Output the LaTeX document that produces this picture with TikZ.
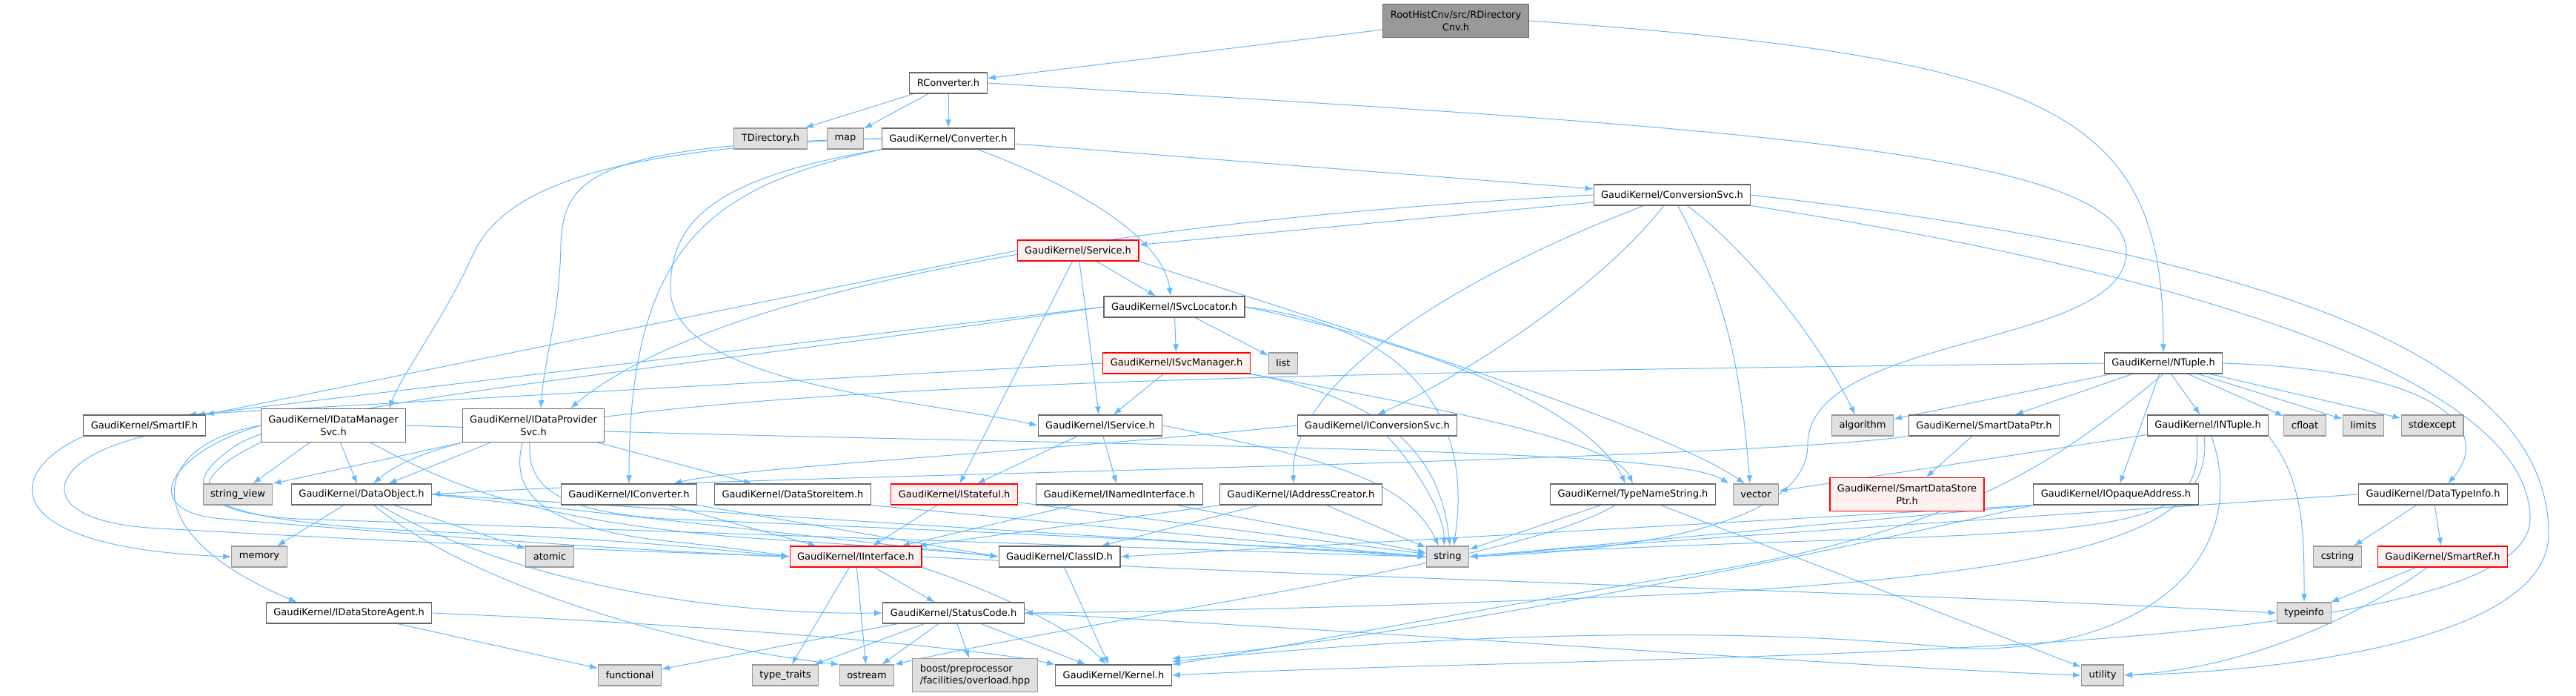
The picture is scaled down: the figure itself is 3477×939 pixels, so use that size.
\documentclass[tikz,border=0pt]{standalone}
\usepackage{fontspec}
\setmainfont{DejaVu Sans}
\usepackage{xcolor}
\usepackage{tikz}
\usetikzlibrary{arrows.meta,backgrounds}
\definecolor{edgeblue}{HTML}{63B8FF}
\definecolor{boxline}{HTML}{666666}
\definecolor{sysline}{HTML}{999999}
\definecolor{sysfill}{HTML}{E0E0E0}
\definecolor{redline}{HTML}{FF0000}
\definecolor{redfill}{HTML}{FFF0F0}
\definecolor{rootfill}{HTML}{999999}
\tikzset{
  hdr/.style={draw=boxline, fill=white, line width=1.2pt, minimum height=28pt, inner xsep=10pt, inner ysep=2pt, font=\fontsize{13}{16.5}\selectfont, align=center},
  syshdr/.style={hdr, draw=sysline, fill=sysfill},
  redhdr/.style={hdr, draw=redline, fill=redfill},
  roothdr/.style={hdr, fill=rootfill},
  twoline/.style={minimum height=45pt},
  dep/.style={draw=edgeblue, line width=1pt, -{Latex[length=11pt,width=8pt]}},
}
\begin{document}
\begin{tikzpicture}[x=1pt, y=-1pt]
\useasboundingbox (0,0) rectangle (3477,939);
\node[roothdr, twoline] (root) at (1965,28) {RootHistCnv/src/RDirectory\\Cnv.h};
\node[hdr] (rconv) at (1280,112) {RConverter.h};
\node[syshdr] (tdir) at (1040,187) {TDirectory.h};
\node[syshdr] (map) at (1141,187) {map};
\node[hdr] (conv) at (1280,187) {GaudiKernel/Converter.h};
\node[hdr] (convsvc) at (2257,263) {GaudiKernel/ConversionSvc.h};
\node[redhdr] (service) at (1455,338) {GaudiKernel/Service.h};
\node[hdr] (svcloc) at (1585,414) {GaudiKernel/ISvcLocator.h};
\node[redhdr] (svcmgr) at (1588,490) {GaudiKernel/ISvcManager.h};
\node[syshdr] (list) at (1732,490) {list};
\node[hdr] (ntuple) at (2920,490) {GaudiKernel/NTuple.h};
\node[hdr] (smartif) at (195,574) {GaudiKernel/SmartIF.h};
\node[hdr, twoline] (datamgr) at (450,574) {GaudiKernel/IDataManager\\Svc.h};
\node[hdr, twoline] (dataprov) at (720,574) {GaudiKernel/IDataProvider\\Svc.h};
\node[hdr] (iservice) at (1485,574) {GaudiKernel/IService.h};
\node[hdr] (iconvsvc) at (1859,574) {GaudiKernel/IConversionSvc.h};
\node[syshdr] (algorithm) at (2514,574) {algorithm};
\node[hdr] (smartdp) at (2678,574) {GaudiKernel/SmartDataPtr.h};
\node[hdr] (intuple) at (2980,574) {GaudiKernel/INTuple.h};
\node[syshdr] (cfloat) at (3111,574) {cfloat};
\node[syshdr] (limits) at (3190,574) {limits};
\node[syshdr] (stdexcept) at (3283,574) {stdexcept};
\node[syshdr] (strview) at (321,667) {string\_view};
\node[hdr] (dataobj) at (488,667) {GaudiKernel/DataObject.h};
\node[hdr] (iconv) at (849,667) {GaudiKernel/IConverter.h};
\node[hdr] (dsitem) at (1070,667) {GaudiKernel/DataStoreItem.h};
\node[redhdr] (istateful) at (1288,667) {GaudiKernel/IStateful.h};
\node[hdr] (inamed) at (1511,667) {GaudiKernel/INamedInterface.h};
\node[hdr] (iaddr) at (1756,667) {GaudiKernel/IAddressCreator.h};
\node[hdr] (typename) at (2204,667) {GaudiKernel/TypeNameString.h};
\node[syshdr] (vector) at (2370,667) {vector};
\node[redhdr, twoline] (sdsptr) at (2574,667) {GaudiKernel/SmartDataStore\\Ptr.h};
\node[hdr] (iopaque) at (2856,667) {GaudiKernel/IOpaqueAddress.h};
\node[hdr] (dtinfo) at (3284,667) {GaudiKernel/DataTypeInfo.h};
\node[syshdr] (memory) at (350,751) {memory};
\node[syshdr] (atomic) at (742,751) {atomic};
\node[redhdr] (iiface) at (1155,751) {GaudiKernel/IInterface.h};
\node[hdr] (classid) at (1430,751) {GaudiKernel/ClassID.h};
\node[syshdr] (string) at (1954,751) {string};
\node[syshdr] (cstring) at (3155,751) {cstring};
\node[redhdr] (smartref) at (3297,751) {GaudiKernel/SmartRef.h};
\node[hdr] (dsagent) at (471,827) {GaudiKernel/IDataStoreAgent.h};
\node[hdr] (statuscode) at (1287,827) {GaudiKernel/StatusCode.h};
\node[syshdr] (typeinfo) at (3110,827) {typeinfo};
\node[syshdr] (functional) at (850,911) {functional};
\node[syshdr] (typetraits) at (1060,911) {type\_traits};
\node[syshdr] (ostream) at (1170,911) {ostream};
\node[syshdr, twoline, align=left] (boost) at (1316,911) {boost/preprocessor\\/facilities/overload.hpp};
\node[hdr] (kernel) at (1503,911) {GaudiKernel/Kernel.h};
\node[syshdr] (utility) at (2838,911) {utility};

\begin{scope}[on background layer]
% top levels
\draw[dep] (root) -- (rconv);
\draw[dep] (root.east) .. controls +(720,50) and +(0,-320) .. (ntuple.north);
\draw[dep] (rconv) -- (tdir);
\draw[dep] (rconv) -- (map);
\draw[dep] (rconv) -- (conv);
\draw[dep] (rconv.east) .. controls (2300,170) and (2870,200) .. (2870,340) .. controls (2870,470) and (2440,450) .. (2440,600) .. controls (2440,720) and (2150,745) .. (string.east);
\draw[dep] (conv) -- (convsvc);
\draw[dep] (conv) .. controls (1450,250) and (1570,320) .. ([xshift=-5pt]svcloc.north);
\draw[dep] (conv.south west) .. controls (960,240) and (905,300) .. (905,390) .. controls (905,520) and (1250,540) .. (iservice.west);
\draw[dep] (conv.west) .. controls (800,195) and (760,240) .. (757,330) .. controls (755,430) and (735,480) .. ([xshift=10pt]dataprov.north);
\draw[dep] (conv.west) .. controls (800,200) and (680,260) .. (640,340) .. controls (600,430) and (545,500) .. ([xshift=75pt]datamgr.north);
\draw[dep] (conv.south west) .. controls (960,250) and (849,330) .. (iconv.north);
% conversion service
\draw[dep] (convsvc) -- (service);
\draw[dep] (convsvc.west) .. controls (1450,300) and (950,400) .. ([xshift=50pt]dataprov.north);
\draw[dep] (convsvc) .. controls (1950,380) and (1740,520) .. ([xshift=-10pt]iaddr.north);
\draw[dep] (convsvc) .. controls (2150,400) and (1950,520) .. (iconvsvc.north);
\draw[dep] (convsvc) .. controls (2330,400) and (2350,500) .. ([xshift=-8pt]vector.north);
\draw[dep] (convsvc) .. controls (2350,330) and (2450,450) .. ([xshift=-10pt]algorithm.north);
\draw[dep] (convsvc.east) .. controls (2950,330) and (3440,450) .. (3440,720) .. controls (3440,860) and (3100,905) .. (utility.east);
\draw[dep] (convsvc.south east) .. controls (2900,360) and (3415,500) .. (3415,700) .. controls (3415,900) and (2200,880) .. (kernel.east);
% services
\draw[dep] (service) -- (svcloc);
\draw[dep] (service.west) -- (smartif.north east);
\draw[dep] (service) -- (iservice);
\draw[dep] (service) -- (istateful);
\draw[dep] (service.south east) .. controls (1900,470) and (2250,580) .. ([xshift=-15pt]vector.north);
\draw[dep] (svcloc) -- (svcmgr);
\draw[dep] (svcloc) -- (list);
\draw[dep] (svcloc.west) -- ([xshift=-12pt]smartif.north east);
\draw[dep] (svcloc.west) .. controls (900,500) and (420,540) .. (320,600) .. controls (230,660) and (250,705) .. (600,718) .. controls (850,728) and (950,740) .. (iiface.west);
\draw[dep] (svcloc.east) .. controls (1900,440) and (1990,560) .. ([xshift=8pt]string.north);
\draw[dep] (svcloc.east) .. controls (1950,470) and (2150,560) .. ([xshift=-10pt]typename.north);
\draw[dep] (svcmgr) -- (iservice);
\draw[dep] (svcmgr.west) -- ([xshift=-24pt]smartif.north east);
\draw[dep] (svcmgr.south east) .. controls (1880,540) and (1945,620) .. ([xshift=3pt]string.north);
\draw[dep] (svcmgr.south east) .. controls (2000,560) and (2180,600) .. (typename.north);
% ntuple side
\draw[dep] (ntuple.west) .. controls (1500,505) and (650,525) .. ([xshift=16pt]dataobj.north);
\draw[dep] (ntuple) -- (algorithm);
\draw[dep] (ntuple) -- (smartdp);
\draw[dep] (ntuple) -- (intuple);
\draw[dep] (ntuple) -- (cfloat);
\draw[dep] (ntuple) -- (limits);
\draw[dep] (ntuple) -- (stdexcept);
\draw[dep] (ntuple) -- (iopaque);
\draw[dep] (ntuple.east) .. controls (3320,500) and (3360,590) .. ([xshift=20pt]dtinfo.north);
\draw[dep] (ntuple.south) .. controls (2780,620) and (2650,720) .. (2250,780) .. controls (1950,830) and (1750,870) .. (kernel.north east);
\draw[dep] (intuple) -- (vector);
\draw[dep] (intuple.south east) .. controls (3110,650) and (3110,720) .. (typeinfo.north);
\draw[dep] ([xshift=-15pt]intuple.south) .. controls (2975,700) and (2900,715) .. (2500,728) .. controls (2200,738) and (2050,745) .. (string.east);
\draw[dep] ([xshift=-5pt]intuple.south) .. controls (2990,720) and (2800,770) .. (2300,800) .. controls (1900,818) and (1600,825) .. (statuscode.east);
\draw[dep] ([xshift=5pt]intuple.south) .. controls (3040,750) and (2900,880) .. (2650,875) .. controls (2300,840) and (1900,860) .. ([yshift=4pt]kernel.north east);
\draw[dep] (smartdp) -- (sdsptr);
\draw[dep] (smartdp.south west) .. controls (2300,625) and (1000,640) .. (dataobj.east);
\draw[dep] (dtinfo) -- (cstring);
\draw[dep] (dtinfo) -- (smartref);
\draw[dep] (dtinfo.west) .. controls (2700,700) and (2150,735) .. (string.east);
\draw[dep] (smartref) -- (typeinfo);
\draw[dep] (smartref) .. controls (3200,820) and (3050,900) .. (utility.east);
\draw[dep] (iopaque.south west) -- (string.east);
\draw[dep] (iopaque.south west) -- (classid.east);
\draw[dep] (iopaque.south west) .. controls (2400,760) and (1900,860) .. ([yshift=8pt]kernel.north east);
\draw[dep] (typename) -- (string);
\draw[dep] (typename) .. controls (2050,760) and (1500,830) .. (ostream.north east);
\draw[dep] (typename) -- (utility);
% interfaces
\draw[dep] (iconvsvc.west) .. controls (1400,610) and (1000,630) .. ([xshift=60pt]iconv.north);
\draw[dep] (iconvsvc) .. controls (1920,640) and (1950,700) .. ([xshift=-5pt]string.north);
\draw[dep] (iservice) -- (istateful);
\draw[dep] (iservice) -- (inamed);
\draw[dep] (iservice.east) .. controls (1800,620) and (1900,650) .. ([xshift=-12pt]string.north);
\draw[dep] (istateful) -- (iiface);
\draw[dep] (istateful) -- (string);
\draw[dep] (inamed) -- (iiface);
\draw[dep] (inamed) -- (string);
\draw[dep] (iaddr.south west) -- ([xshift=-5pt]iiface.north east);
\draw[dep] (iaddr) -- (classid);
\draw[dep] (iaddr) -- (string);
\draw[dep] (iconv) -- (iiface);
\draw[dep] (iconv.south east) -- (classid.west);
\draw[dep] (dsitem.south east) -- (string.west);
% data services
\draw[dep] (dataprov.south west) -- (strview.north east);
\draw[dep] (dataprov) -- (dataobj);
\draw[dep] (dataprov) -- (dsitem);
\draw[dep] ([xshift=-15pt]dataprov.south) .. controls (690,660) and (720,710) .. (900,730) .. controls (980,738) and (1030,745) .. (iiface.west);
\draw[dep] ([xshift=-5pt]dataprov.south) .. controls (712,650) and (740,690) .. (900,700) .. controls (1400,720) and (1800,740) .. (string.west);
\draw[dep] (datamgr) -- (strview);
\draw[dep] (datamgr) -- (dataobj);
\draw[dep] ([xshift=50pt]datamgr.south) .. controls (600,650) and (700,700) .. (1000,725) .. controls (1200,738) and (1300,745) .. (classid.west);
\draw[dep] (datamgr.east) .. controls (1500,605) and (2250,600) .. ([xshift=-5pt]vector.north west);
\draw[dep] (datamgr.west) .. controls (200,600) and (180,720) .. ([xshift=-70pt]dsagent.north);
\draw[dep] (datamgr.west) .. controls (230,610) and (180,690) .. (300,700) .. controls (600,725) and (900,745) .. (iiface.west);
\draw[dep] (datamgr.south west) .. controls (260,640) and (240,690) .. (400,700) .. controls (1000,720) and (1700,745) .. (string.west);
\draw[dep] (smartif.south west) .. controls (0,640) and (0,740) .. (memory.west);
\draw[dep] (smartif.south) .. controls (60,620) and (40,700) .. (200,712) .. controls (600,735) and (900,745) .. (iiface.west);
\draw[dep] (dataobj) -- (memory);
\draw[dep] (dataobj) -- (atomic);
\draw[dep] (dataobj) .. controls (620,780) and (900,870) .. (ostream.north west);
\draw[dep] (dataobj) .. controls (680,780) and (950,830) .. (statuscode.west);
\draw[dep] (dataobj.east) -- (classid.west);
\draw[dep] (dataobj.east) -- (string.west);
\draw[dep] (dsagent) -- (functional);
\draw[dep] (dsagent.east) .. controls (900,840) and (1300,870) .. (kernel.north west);
% bottom
\draw[dep] (iiface) -- (statuscode);
\draw[dep] (iiface) -- (ostream);
\draw[dep] (iiface) -- (typetraits);
\draw[dep] (iiface.south east) .. controls (1350,800) and (1450,850) .. ([xshift=-10pt]kernel.north);
\draw[dep] (iiface.east) .. controls (1800,780) and (2600,800) .. (typeinfo.west);
\draw[dep] (classid) -- (kernel);
\draw[dep] (statuscode) -- (functional);
\draw[dep] (statuscode) -- (typetraits);
\draw[dep] (statuscode) -- (ostream);
\draw[dep] (statuscode) -- (boost);
\draw[dep] (statuscode) -- (kernel);
\draw[dep] (statuscode.east) .. controls (2000,860) and (2500,900) .. (utility.west);
\end{scope}
\end{tikzpicture}
\end{document}
